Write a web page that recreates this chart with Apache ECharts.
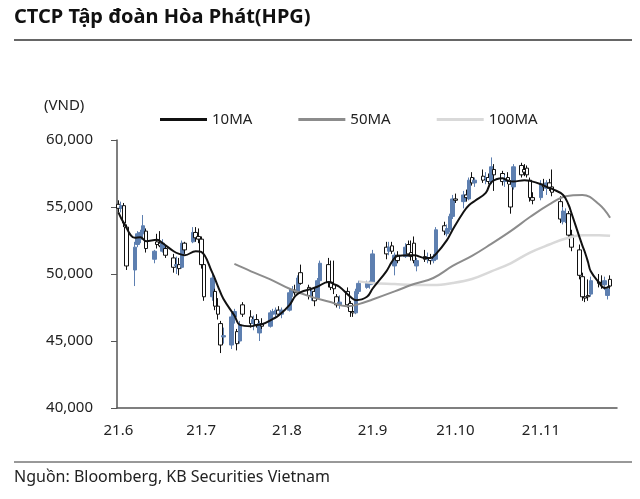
<!DOCTYPE html>
<html><head><meta charset="utf-8">
<script src="https://cdn.jsdelivr.net/npm/echarts@6/dist/echarts.min.js"></script>
<style>html,body{margin:0;padding:0;background:#fff}#c{width:640px;height:499px}</style>
</head><body><div id="c"></div>
<script>
// ---- data ----
const tradeDates = [
'2021-06-01','2021-06-02','2021-06-03','2021-06-04','2021-06-07','2021-06-08','2021-06-09','2021-06-10','2021-06-11','2021-06-14','2021-06-15','2021-06-16','2021-06-17','2021-06-18','2021-06-21','2021-06-22','2021-06-23','2021-06-24','2021-06-25','2021-06-28','2021-06-29','2021-06-30',
'2021-07-01','2021-07-02','2021-07-05','2021-07-06','2021-07-07','2021-07-08','2021-07-09','2021-07-12','2021-07-13','2021-07-14','2021-07-15','2021-07-16','2021-07-19','2021-07-20','2021-07-21','2021-07-22','2021-07-23','2021-07-26','2021-07-27','2021-07-28','2021-07-29','2021-07-30',
'2021-08-02','2021-08-03','2021-08-04','2021-08-05','2021-08-06','2021-08-09','2021-08-10','2021-08-11','2021-08-12','2021-08-13','2021-08-16','2021-08-17','2021-08-18','2021-08-19','2021-08-20','2021-08-23','2021-08-24','2021-08-25','2021-08-26','2021-08-27','2021-08-30','2021-08-31',
'2021-09-01','2021-09-06','2021-09-07','2021-09-08','2021-09-09','2021-09-10','2021-09-13','2021-09-14','2021-09-15','2021-09-16','2021-09-17','2021-09-20','2021-09-21','2021-09-22','2021-09-23','2021-09-24','2021-09-27','2021-09-28','2021-09-29','2021-09-30',
'2021-10-01','2021-10-04','2021-10-05','2021-10-06','2021-10-07','2021-10-08','2021-10-11','2021-10-12','2021-10-13','2021-10-14','2021-10-15','2021-10-18','2021-10-19','2021-10-20','2021-10-21','2021-10-22','2021-10-25','2021-10-26','2021-10-27','2021-10-28','2021-10-29',
'2021-11-01','2021-11-02','2021-11-03','2021-11-04','2021-11-05','2021-11-08','2021-11-09','2021-11-10','2021-11-11','2021-11-12','2021-11-15','2021-11-16','2021-11-17','2021-11-18','2021-11-19','2021-11-22','2021-11-23','2021-11-24','2021-11-25','2021-11-26'];

const openPx = [
55200,54900,55100,53500,50300,52200,52600,53000,53200,51100,52400,52300,51700,51900,51200,50600,50700,50500,52300,52400,53100,52800,
52600,50700,48300,48700,47600,46300,45300,44700,46800,45700,45000,47700,46800,46300,46600,45600,46300,46100,47000,47100,47300,47000,
47300,48600,48800,48700,50100,49000,48300,48700,48200,49500,50700,49400,49200,48300,47700,48700,47800,47200,47100,48700,49000,49200,
49300,52000,51700,52100,50600,51400,51300,52200,51600,52300,50600,51300,51100,51200,51000,51100,53600,53000,53300,54300,
55600,55400,55900,55600,57200,56800,57300,57100,57200,56900,57800,57500,56900,57200,56700,56500,58100,57800,57900,57000,55700,
55700,56700,56400,56800,56500,55400,53900,54300,54500,52900,51800,49800,48300,48400,48500,49400,49300,49200,48400,49600];
const highPx = [
55500,55400,55300,53700,52400,53200,53300,54400,53400,51800,53000,53200,52600,52100,51500,51300,51200,52500,52400,53500,53500,53400,
52800,51000,50000,48900,48200,46500,46000,47100,47400,45900,46500,47900,47300,46900,47000,46500,46700,47300,47400,47500,47600,47500,
48900,49100,49200,49900,50700,49200,48800,49000,49700,51000,51200,51000,51000,48500,48400,49000,48000,47700,48900,49500,49500,49500,
51800,52400,52400,52400,51600,51700,52300,52500,52500,52800,51200,51800,51600,51500,51500,53500,53900,53700,54500,55900,
56000,56200,56300,57200,57600,57200,57800,57600,57500,58700,58200,57700,57400,57600,57000,58200,58300,58200,58100,57200,56100,
57000,57100,57000,57100,57800,55800,55000,54900,54700,53300,52200,50100,49700,49600,49800,50000,49900,49800,49100,49900];
const lowPx = [
54600,54600,53500,50300,49100,52000,52300,52800,51600,50800,51900,52000,51600,51200,50100,50000,49900,50400,51500,52300,52400,52300,
50400,48000,48000,47300,46600,44100,44800,44400,46300,44300,44800,46800,46000,45800,46000,45000,45900,46000,46700,46800,46900,46700,
47200,48300,48400,48500,49200,48100,48000,47600,48100,49400,49000,48800,48500,47500,47400,47500,46800,46800,47000,48500,48900,48900,
49200,51100,51400,51500,49900,50800,51200,51300,51000,50800,50200,50900,50800,50700,50800,51000,52900,52800,53100,54100,
55300,54900,55400,55500,56600,56500,56800,56700,56700,56700,56200,56600,56500,56700,54500,56300,57200,57300,57200,55400,55200,
55500,56200,55900,56200,55800,53800,53700,53800,52600,51700,49600,48000,47900,48000,48300,49000,48900,48800,48100,48900];
const closePx = [
54900,55100,53800,50600,52000,53000,53100,53600,51900,51700,52200,52100,52300,51400,50500,50700,50400,52300,51800,53100,52700,52600,
50700,48300,49700,47600,47000,44700,45400,46800,47200,44800,46200,47000,46300,46600,46200,46300,46100,47100,47200,47300,47000,47300,
48600,48800,48600,49700,49300,48400,48700,48000,49500,50800,49400,49000,48900,47700,47900,47700,47200,47100,48700,49300,49300,49400,
51500,51500,52000,51700,51400,51000,52000,51500,51300,51000,51000,51100,51200,51000,51100,53300,53200,53400,54300,55600,
55500,55900,55700,57000,56800,57000,57000,57200,56900,58000,57400,56900,57100,57000,55000,58000,57400,57600,57400,55700,55500,
56700,56500,56800,56400,56100,54100,54700,54500,52900,52000,49900,48300,48200,48300,49500,49300,49200,49500,48900,49100];

const ma10Dates = ['2021-06-01','2021-06-03','2021-06-07','2021-06-09','2021-06-11','2021-06-15','2021-06-17','2021-06-21','2021-06-23','2021-06-25','2021-06-29','2021-07-01','2021-07-05','2021-07-07','2021-07-09','2021-07-13','2021-07-15','2021-07-19','2021-07-21','2021-07-23','2021-07-27','2021-07-29','2021-08-02','2021-08-04','2021-08-06','2021-08-10','2021-08-12','2021-08-16','2021-08-18','2021-08-20','2021-08-24','2021-08-26','2021-08-30','2021-09-01','2021-09-06','2021-09-08','2021-09-10','2021-09-14','2021-09-16','2021-09-20','2021-09-22','2021-09-24','2021-09-28','2021-09-30','2021-10-04','2021-10-06','2021-10-08','2021-10-12','2021-10-14','2021-10-18','2021-10-20','2021-10-22','2021-10-26','2021-10-28','2021-11-01','2021-11-03','2021-11-05','2021-11-09','2021-11-11','2021-11-12','2021-11-15','2021-11-16','2021-11-17','2021-11-18','2021-11-19','2021-11-22','2021-11-24','2021-11-26'];
const ma10Values = [54600,53800,52700,52750,52450,52550,52300,51700,51500,51400,51700,51650,50100,49100,48150,46900,46200,46100,46200,46250,46650,46900,47700,48350,48650,48900,49050,49400,49250,49050,48300,48050,48300,48900,50200,50900,51350,51400,51400,51200,51200,51500,52550,53300,54650,55150,55450,56050,56850,57150,56950,56900,57000,56950,56700,56500,56350,55900,55150,54550,52700,52100,51550,50900,50200,49350,48950,49100];

const ma50Dates = ['2021-07-13','2021-07-19','2021-07-26','2021-08-02','2021-08-09','2021-08-16','2021-08-23','2021-08-27','2021-09-01','2021-09-09','2021-09-16','2021-09-23','2021-09-30','2021-10-07','2021-10-14','2021-10-21','2021-10-28','2021-11-04','2021-11-10','2021-11-16','2021-11-22','2021-11-26'];
const ma50Values = [50750,50200,49600,48900,48350,47950,47600,47750,48100,48700,49250,49700,50600,51350,52250,53200,54250,55200,55800,55900,55200,54200];

const ma100Dates = ['2021-08-27','2021-09-01','2021-09-09','2021-09-16','2021-09-23','2021-09-30','2021-10-07','2021-10-14','2021-10-21','2021-10-28','2021-11-04','2021-11-10','2021-11-16','2021-11-22','2021-11-26'];
const ma100Values = [49450,49330,49250,49180,49180,49330,49630,50200,50800,51600,52200,52650,52900,52900,52850];

const yTicks = { min: 40000, max: 60000, step: 5000 };
const firstDay = '2021-06-01', lastDay = '2021-11-28';

// ---- build calendar category axis ----
const cats = [];
for (let t = Date.parse(firstDay + 'T00:00:00Z'); t <= Date.parse(lastDay + 'T00:00:00Z'); t += 86400000) {
  cats.push(new Date(t).toISOString().slice(0, 10));
}
const idx = {}; cats.forEach((d, i) => idx[d] = i);
const candle = cats.map(() => '-');
tradeDates.forEach((d, i) => { candle[idx[d]] = [openPx[i], closePx[i], lowPx[i], highPx[i]]; });
function lineData(ds, vs) { const a = cats.map(() => null); ds.forEach((d, i) => a[idx[d]] = vs[i]); return a; }

const isMonthStart = (i, v) => v.slice(8) === '01';
const FONT = 'Noto Sans';

const chart = echarts.init(document.getElementById('c'), null, { renderer: 'canvas' });
chart.setOption({
  animation: false,
  textStyle: { fontFamily: FONT },
  grid: { left: 117, right: 23, top: 140, bottom: 91, containLabel: false },
  legend: {
    left: 155, top: 107, itemWidth: 47, itemHeight: 3, itemGap: 46,
    textStyle: { fontFamily: FONT, fontSize: 15, color: '#222' },
    data: [{ name: '10MA', icon: 'rect' }, { name: '50MA', icon: 'rect' }, { name: '100MA', icon: 'rect' }]
  },
  xAxis: {
    type: 'category', data: cats, boundaryGap: true,
    axisLine: { lineStyle: { color: '#555', width: 1.5 } },
    axisTick: { inside: true, length: 6, interval: isMonthStart, alignWithLabel: true, lineStyle: { color: '#555' } },
    axisLabel: {
      interval: isMonthStart, margin: 15, fontSize: 15, color: '#222', fontFamily: FONT,
      formatter: v => v.slice(2, 4) + '.' + (+v.slice(5, 7))
    },
    splitLine: { show: false }
  },
  yAxis: {
    type: 'value', min: yTicks.min, max: yTicks.max, interval: yTicks.step,
    axisLine: { show: true, lineStyle: { color: '#555', width: 1.5 } },
    axisTick: { show: true, length: 6, lineStyle: { color: '#555' } },
    axisLabel: { margin: 24, fontSize: 15, color: '#222', fontFamily: FONT,
      formatter: v => v.toLocaleString('en-US') },
    splitLine: { show: false }
  },
  graphic: [
    { type: 'text', left: 14, top: 7, style: { text: 'CTCP Tập đoàn Hòa Phát(HPG)', font: 'bold 20px "Noto Sans"', fill: '#111' } },
    { type: 'line', shape: { x1: 14, y1: 40, x2: 632, y2: 40 }, style: { stroke: '#333', lineWidth: 1.5 } },
    { type: 'text', left: 44, top: 98, style: { text: '(VND)', font: '15px "Noto Sans"', fill: '#222' } },
    { type: 'line', shape: { x1: 14, y1: 462, x2: 632, y2: 462 }, style: { stroke: '#333', lineWidth: 1 } },
    { type: 'text', left: 14, top: 469, style: { text: 'Nguồn: Bloomberg, KB Securities Vietnam', font: '16px "Noto Sans"', fill: '#222' } }
  ],
  series: [
    {
      type: 'candlestick', name: 'HPG', data: candle, barWidth: 4, z: 2,
      itemStyle: { color: '#5d7fb0', color0: '#ffffff', borderColor: '#5d7fb0', borderColor0: '#111', borderWidth: 1 }
    },
    { type: 'line', name: '100MA', data: lineData(ma100Dates, ma100Values), connectNulls: true, smooth: 0.4, showSymbol: false, color: '#d9d9d9', lineStyle: { color: '#d9d9d9', width: 2.5 }, z: 3 },
    { type: 'line', name: '50MA', data: lineData(ma50Dates, ma50Values), connectNulls: true, smooth: 0.4, showSymbol: false, color: '#8c8c8c', lineStyle: { color: '#8c8c8c', width: 2 }, z: 4 },
    { type: 'line', name: '10MA', data: lineData(ma10Dates, ma10Values), connectNulls: true, smooth: 0.4, showSymbol: false, color: '#111', lineStyle: { color: '#111', width: 2 }, z: 5 }
  ]
});
</script></body></html>
